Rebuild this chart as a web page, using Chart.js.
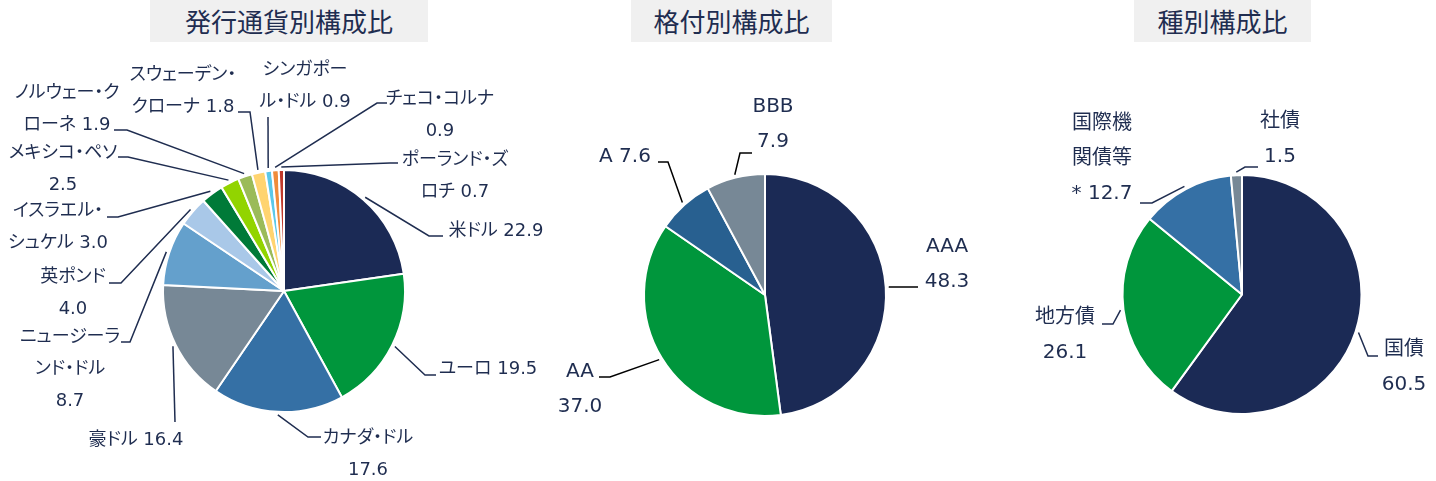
<!DOCTYPE html>
<html lang="ja">
<head>
<meta charset="utf-8">
<title>構成比</title>
<script src="https://cdn.jsdelivr.net/npm/chart.js@4.4.1/dist/chart.umd.min.js"></script>
<style>
  body {
    margin: 0;
    background: #fff;
    width: 1436px;
    height: 481px;
    position: relative;
    overflow: hidden;
    font-family: "Noto Sans CJK JP", sans-serif;
  }
  .title {
    position: absolute;
    top: 0;
    height: 42px;
    line-height: 42px;
    background: #f0f0f0;
    color: #1f2d50;
    font-size: 26px;
    text-align: center;
  }
  canvas {
    position: absolute;
    left: 0;
    top: 0;
  }
  .callout {
    position: absolute;
    color: #1f2d50;
    font-family: "DejaVu Sans", "Noto Sans CJK JP", sans-serif;
    font-feature-settings: "palt";
    white-space: nowrap;
    text-align: center;
    transform: translateX(-50%);
  }
  .callout div { display: block; }
</style>
</head>
<body>
<div class="title" style="left:150px; width:278px;">発行通貨別構成比</div>
<div class="title" style="left:631px; width:201px;">格付別構成比</div>
<div class="title" style="left:1134px; width:177px;">種別構成比</div>
<canvas id="currency" width="1436" height="481"></canvas>
<canvas id="rating" width="1436" height="481"></canvas>
<canvas id="kind" width="1436" height="481"></canvas>

<script>
// 発行通貨別構成比
const currencyLabels = ['米ドル', 'ユーロ', 'カナダ・ドル', '豪ドル', 'ニュージーランド・ドル', '英ポンド',
  'イスラエル・シュケル', 'メキシコ・ペソ', 'ノルウェー・クローネ', 'スウェーデン・クローナ',
  'シンガポール・ドル', 'チェコ・コルナ', 'ポーランド・ズロチ'];
const currencyValues = [22.9, 19.5, 17.6, 16.4, 8.7, 4.0, 3.0, 2.5, 1.9, 1.8, 0.9, 0.9, 0.7];

// 格付別構成比
const ratingLabels = ['AAA', 'AA', 'A', 'BBB'];
const ratingValues = [48.3, 37.0, 7.6, 7.9];

// 種別構成比
const kindLabels = ['国債', '地方債', '国際機関債等*', '社債'];
const kindValues = [60.5, 26.1, 12.7, 1.5];

const NAVY = '#1b2a55';
const GREEN = '#00963c';
const BLUE = '#3570a5';
const GREY = '#778896';
const TEXT = '#1f2d50';

const currencyColors = [NAVY, GREEN, BLUE, GREY, '#64a0cc', '#a9c8e8', '#007a38',
  '#92d400', '#9bbb59', '#ffd470', '#5bc8e8', '#f08c3a', '#c0392b'];
const ratingColors = [NAVY, GREEN, '#286090', GREY];
const kindColors = [NAVY, GREEN, BLUE, GREY];

// label placement: where the text sits, where the leader line bends / ends,
// and where to wrap "name value" into lines
const currencyPlaces = [
  { x: 496, y: 230, breaks: [],     elbow: [429, 236], end: [443, 236] },
  { x: 488, y: 368, breaks: [],     elbow: [425, 375], end: [436, 375] },
  { x: 368, y: 437, breaks: [6],    elbow: [308, 437], end: [321, 437] },
  { x: 136, y: 439, breaks: [],     elbow: [175, 422], end: [175, 422] },
  { x: 70,  y: 336, breaks: [6, 11], elbow: [130, 342], end: [121, 342] },
  { x: 73,  y: 276, breaks: [4],    elbow: [121, 283], end: [109, 283] },
  { x: 58,  y: 210, breaks: [6],    elbow: [118, 217], end: [107, 217] },
  { x: 63,  y: 152, breaks: [7],    elbow: [128, 157], end: [118, 157] },
  { x: 67,  y: 92,  breaks: [7],    elbow: [127, 130], end: [114, 130] },
  { x: 183, y: 74,  breaks: [7],    elbow: [250, 112], end: [238, 112] },
  { x: 305, y: 69,  breaks: [5],    elbow: [268, 117], end: [268, 117] },
  { x: 440, y: 98,  breaks: [7],    elbow: [377, 103], end: [387, 103] },
  { x: 455, y: 159, breaks: [7],    elbow: [390, 163], end: [398, 163] }
];
const ratingPlaces = [
  { x: 947, y: 245, breaks: [3], elbow: [890, 287], end: [918, 287] },
  { x: 580, y: 370, breaks: [2], elbow: [610, 377], end: [599, 377] },
  { x: 625, y: 155, breaks: [],  elbow: [668, 162], end: [658, 162] },
  { x: 773, y: 105, breaks: [3], elbow: [740, 153], end: [752, 153] }
];
const kindPlaces = [
  { x: 1404, y: 348, breaks: [2],    elbow: [1368, 356], end: [1378, 356] },
  { x: 1065, y: 316, breaks: [3],    elbow: [1113, 324], end: [1102, 324] },
  { x: 1102, y: 122, breaks: [3, 6], elbow: [1152, 203], end: [1140, 203] },
  { x: 1280, y: 120, breaks: [2],    elbow: [1245, 167], end: [1258, 167] }
];

function wrapLabel(text, breaks) {
  const lines = [];
  let from = 0;
  breaks.forEach(b => { lines.push(text.slice(from, b).trim()); from = b; });
  lines.push(text.slice(from).trim());
  return lines;
}

// leader lines on the canvas, label text as html (so kana can be set proportional)
const calloutPlugin = {
  id: 'callout',
  afterDatasetsDraw(chart, args, opts) {
    const ctx = chart.ctx;
    const meta = chart.getDatasetMeta(0);
    ctx.save();
    ctx.strokeStyle = opts.lineColor;
    ctx.lineWidth = 1.5;
    meta.data.forEach((arc, i) => {
      const place = opts.places[i];
      const p = arc.getProps(['x', 'y', 'startAngle', 'endAngle', 'outerRadius'], true);
      const mid = (p.startAngle + p.endAngle) / 2;
      ctx.beginPath();
      ctx.moveTo(p.x + Math.cos(mid) * (p.outerRadius + 3), p.y + Math.sin(mid) * (p.outerRadius + 3));
      ctx.lineTo(place.elbow[0], place.elbow[1]);
      ctx.lineTo(place.end[0], place.end[1]);
      ctx.stroke();
    });
    ctx.restore();

    if (chart.$calloutDone) return;
    chart.$calloutDone = true;
    const labels = chart.data.labels;
    const values = chart.data.datasets[0].data;
    labels.forEach((name, i) => {
      const place = opts.places[i];
      const box = document.createElement('div');
      box.className = 'callout';
      box.style.left = place.x + 'px';
      box.style.top = (place.y - opts.lineHeight / 2) + 'px';
      box.style.fontSize = opts.size + 'px';
      box.style.lineHeight = opts.lineHeight + 'px';
      wrapLabel(name + ' ' + values[i].toFixed(1), place.breaks).forEach(line => {
        const row = document.createElement('div');
        row.textContent = line;
        box.appendChild(row);
      });
      document.body.appendChild(box);
    });
  }
};

function makePie(id, labels, values, colors, padding, callout) {
  return new Chart(document.getElementById(id), {
    type: 'pie',
    data: {
      labels: labels,
      datasets: [{
        data: values,
        backgroundColor: colors,
        borderColor: '#ffffff',
        borderWidth: 2
      }]
    },
    options: {
      responsive: false,
      animation: false,
      events: [],
      layout: { padding: padding },
      plugins: {
        legend: { display: false },
        tooltip: { enabled: false },
        callout: callout
      }
    },
    plugins: [calloutPlugin]
  });
}

makePie('currency', currencyLabels, currencyValues, currencyColors,
  { left: 162, right: 1030, top: 169, bottom: 68 },
  { places: currencyPlaces, size: 18, lineHeight: 32, lineColor: TEXT });

makePie('rating', ratingLabels, ratingValues, ratingColors,
  { left: 643, right: 549, top: 173, bottom: 64 },
  { places: ratingPlaces, size: 20, lineHeight: 35, lineColor: '#000000' });

makePie('kind', kindLabels, kindValues, kindColors,
  { left: 1121, right: 73, top: 174, bottom: 66 },
  { places: kindPlaces, size: 20, lineHeight: 35, lineColor: TEXT });
</script>
</body>
</html>
